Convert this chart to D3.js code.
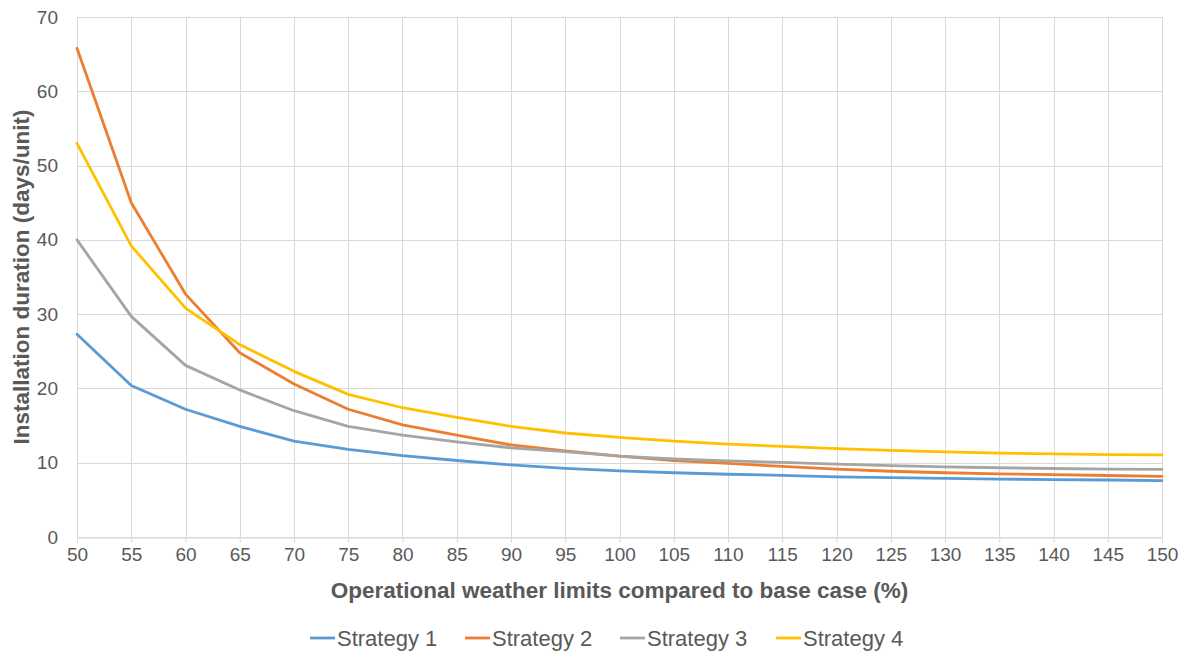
<!DOCTYPE html>
<html>
<head>
<meta charset="utf-8">
<script src="https://cdn.jsdelivr.net/npm/d3@7"></script>
<style>
  body { margin: 0; background: #fff; }
  svg { display: block; }
</style>
</head>
<body>
<svg></svg>
<script>
const limits = [50, 55, 60, 65, 70, 75, 80, 85, 90, 95, 100, 105, 110, 115, 120, 125, 130, 135, 140, 145, 150];
const strategy1 = [27.3, 20.4, 17.2, 14.9, 12.9, 11.8, 10.95, 10.3, 9.7, 9.25, 8.9, 8.65, 8.45, 8.3, 8.1, 7.98, 7.88, 7.8, 7.72, 7.67, 7.6];
const strategy2 = [65.8, 45.0, 32.7, 24.8, 20.6, 17.2, 15.1, 13.7, 12.4, 11.6, 10.9, 10.3, 9.9, 9.5, 9.15, 8.85, 8.65, 8.5, 8.4, 8.28, 8.15];
const strategy3 = [40.0, 29.7, 23.1, 19.8, 17.0, 14.9, 13.7, 12.8, 12.0, 11.5, 10.9, 10.5, 10.25, 10.05, 9.8, 9.6, 9.45, 9.32, 9.22, 9.15, 9.1];
const strategy4 = [53.0, 39.2, 30.8, 25.9, 22.3, 19.2, 17.4, 16.1, 14.9, 14.0, 13.4, 12.9, 12.5, 12.2, 11.9, 11.65, 11.45, 11.3, 11.18, 11.1, 11.05];
const seriesNames = ['Strategy 1', 'Strategy 2', 'Strategy 3', 'Strategy 4'];
const seriesColors = ['#5B9BD5', '#ED7D31', '#A5A5A5', '#FFC000'];
const yTicks = [0, 10, 20, 30, 40, 50, 60, 70];

const WIDTH = 1186;
const HEIGHT = 653;
const PAD_LEFT = 77;
const PAD_RIGHT = 24;
const PAD_TOP = 17;
const PAD_BOTTOM = 116;

const series = [strategy1, strategy2, strategy3, strategy4].map((vals, i) => ({
  name: seriesNames[i],
  color: seriesColors[i],
  points: vals.map((v, j) => ({x: limits[j], y: v}))
}));

const svg = d3.select('svg').
attr('width', WIDTH).
attr('height', HEIGHT).
attr('font-family', '"Liberation Sans", Arial, sans-serif');

const xScale = d3.scaleLinear().
domain([50, 150]).
range([PAD_LEFT, WIDTH - PAD_RIGHT]);

const yScale = d3.scaleLinear().
domain([0, 70]).
range([HEIGHT - PAD_BOTTOM, PAD_TOP]);

// gridlines
const gridG = svg.append('g').attr('stroke', '#d9d9d9').attr('stroke-width', 1);

gridG.selectAll('line.h').
data(yTicks).
join('line').
attr('class', 'h').
attr('x1', PAD_LEFT).
attr('x2', WIDTH - PAD_RIGHT).
attr('y1', d => Math.round(yScale(d)) + 0.5).
attr('y2', d => Math.round(yScale(d)) + 0.5);

gridG.selectAll('line.v').
data(limits).
join('line').
attr('class', 'v').
attr('x1', d => Math.round(xScale(d)) + 0.5).
attr('x2', d => Math.round(xScale(d)) + 0.5).
attr('y1', PAD_TOP).
attr('y2', HEIGHT - PAD_BOTTOM);

// axes
const xAxis = d3.axisBottom(xScale).
tickValues(limits).
tickSize(5).
tickPadding(5);

const xAxisG = svg.append('g').
attr('transform', `translate(0, ${Math.round(yScale(0)) + 0.5})`).
call(xAxis);
xAxisG.select('.domain').attr('stroke', '#d9d9d9');
xAxisG.selectAll('.tick line').attr('stroke', '#d9d9d9');
xAxisG.selectAll('.tick text').
attr('fill', '#595959').
attr('font-size', '19px').
attr('font-family', '"Liberation Sans", Arial, sans-serif');

const yAxis = d3.axisLeft(yScale).
tickValues(yTicks).
tickSize(0).
tickPadding(19);

const yAxisG = svg.append('g').
attr('transform', `translate(${PAD_LEFT}, 0)`).
call(yAxis);
yAxisG.select('.domain').remove();
yAxisG.selectAll('.tick text').
attr('fill', '#595959').
attr('font-size', '19px').
attr('font-family', '"Liberation Sans", Arial, sans-serif');

// lines
const line = d3.line().
x(d => xScale(d.x)).
y(d => yScale(d.y));

svg.append('g').
selectAll('path').
data(series).
join('path').
attr('d', d => line(d.points)).
attr('fill', 'none').
attr('stroke', d => d.color).
attr('stroke-width', 2.8).
attr('stroke-linejoin', 'round').
attr('stroke-linecap', 'round');

// axis titles
svg.append('text').
text('Operational weather limits compared to base case (%)').
attr('x', (PAD_LEFT + WIDTH - PAD_RIGHT) / 2).
attr('y', 598).
attr('text-anchor', 'middle').
attr('font-size', '22.5px').
attr('font-weight', 'bold').
attr('fill', '#595959');

svg.append('text').
text('Installation duration (days/unit)').
attr('transform', `translate(29, ${(PAD_TOP + HEIGHT - PAD_BOTTOM) / 2}) rotate(-90)`).
attr('text-anchor', 'middle').
attr('font-size', '22.5px').
attr('font-weight', 'bold').
attr('fill', '#595959');

// legend
const legendX = [310, 465, 620, 776];
const legend = svg.append('g').
selectAll('g').
data(series).
join('g').
attr('transform', (d, i) => `translate(${legendX[i]}, 638)`);

legend.append('line').
attr('x1', 0).
attr('x2', 25).
attr('y1', 0).
attr('y2', 0).
attr('stroke', d => d.color).
attr('stroke-width', 2.8);

legend.append('text').
text(d => d.name).
attr('x', 27).
attr('y', 8).
attr('font-size', '22px').
attr('fill', '#595959');
</script>
</body>
</html>
